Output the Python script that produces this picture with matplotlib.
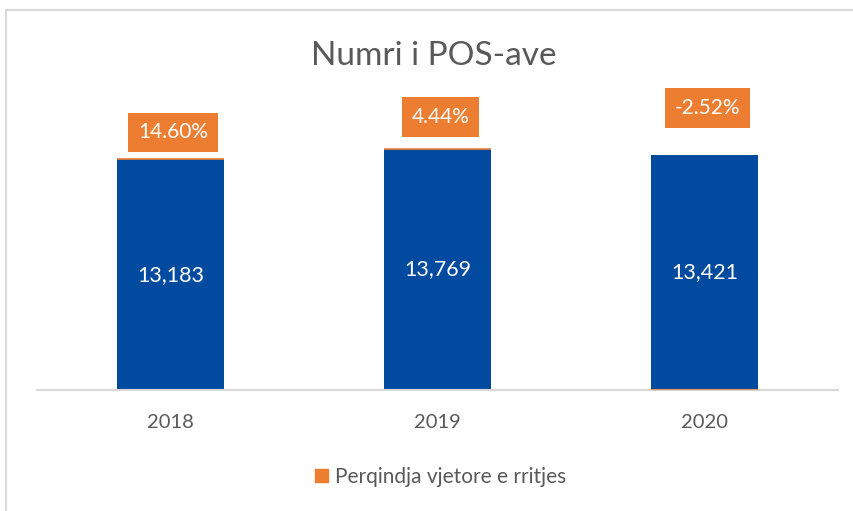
import matplotlib
matplotlib.use("Agg")
import matplotlib.pyplot as plt
from matplotlib.patches import Patch
from matplotlib.lines import Line2D

years = ["2018", "2019", "2020"]
pos_count = [13183, 13769, 13421]
growth_pct = [14.60, 4.44, -2.52]

W, H = 854, 511
fig = plt.figure(figsize=(W / 100, H / 100), dpi=100)
plt.rcParams['font.family'] = ['Lato', 'DejaVu Sans']

BLUE = "#004A9F"
ORANGE = "#ED7D31"
GRAY = "#595959"

# outer frame (top + left visible)
fig.add_artist(Line2D([6 / W, 1], [1 - 10 / H, 1 - 10 / H], transform=fig.transFigure,
                      color="#d9d9d9", lw=1.5))
fig.add_artist(Line2D([6 / W, 6 / W], [0, 1 - 10 / H], transform=fig.transFigure,
                      color="#d9d9d9", lw=1.5))

ax_left, ax_right = 37, 838
ax_bottom, ax_top = 390, 110
ax = fig.add_axes([ax_left / W, 1 - ax_bottom / H, (ax_right - ax_left) / W, (ax_bottom - ax_top) / H])

x = list(range(len(years)))
bw = 0.4
ax.bar(x, pos_count, width=bw, color=BLUE, zorder=2)
bottoms = [c if g >= 0 else 0 for c, g in zip(pos_count, growth_pct)]
ax.bar(x, growth_pct, width=bw, bottom=bottoms, color=ORANGE, edgecolor=ORANGE, lw=1.2, zorder=3)

ax.set_xlim(-0.5, 2.5)
ax.set_ylim(0, 16000)
for s in ["top", "right", "left"]:
    ax.spines[s].set_visible(False)
ax.spines["bottom"].set_color("#d9d9d9")
ax.spines["bottom"].set_linewidth(1.5)
ax.set_yticks([])
ax.set_xticks(x)
ax.set_xticklabels(years, fontsize=14.5, color=GRAY)
ax.tick_params(axis="x", length=0, pad=17)

for xi, c in zip(x, pos_count):
    ax.text(xi, c / 2, f"{c:,}", ha="center", va="center", color="white", fontsize=15.5)

label_offsets = [27, 32, 47]
for xi, c, g, off in zip(x, pos_count, growth_pct, label_offsets):
    ax.annotate(f"{g:.2f}%", xy=(xi, c), xytext=(2, off * 0.72), textcoords="offset points",
                ha="center", va="center", color="white", fontsize=15,
                bbox=dict(boxstyle="square,pad=0.47", fc=ORANGE, ec="none"))

fig.text(434 / W, 1 - 56 / H, "Numri i POS-ave", ha="center", va="center", fontsize=24, color=GRAY)

handles = [Patch(color=ORANGE, label="Perqindja vjetore e rritjes")]
fig.legend(handles=handles, loc="center", bbox_to_anchor=(441 / W, 1 - 477 / H), frameon=False,
           fontsize=15, labelcolor=GRAY, handlelength=0.6, handleheight=0.6, handletextpad=0.35)

fig.savefig("out.png", dpi=100)
